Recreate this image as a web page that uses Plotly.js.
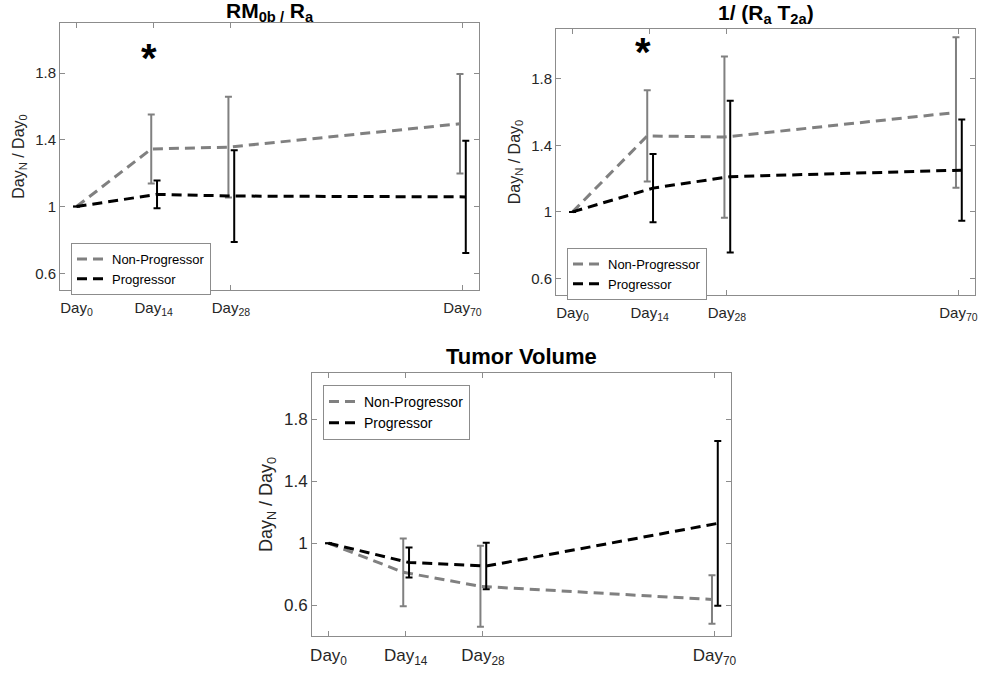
<!DOCTYPE html>
<html>
<head>
<meta charset="utf-8">
<script src="https://cdn.plot.ly/plotly-3.0.1.min.js"></script>
<style>html,body{margin:0;padding:0;background:#fff;}#chart{width:987px;height:685px;}</style>
</head>
<body>
<div id="chart"></div>
<script>
// ---- data ----
const days = [0, 14, 28, 70];
const dayLabels = ['Day<sub>0</sub>', 'Day<sub>14</sub>', 'Day<sub>28</sub>', 'Day<sub>70</sub>'];
const yTickVals = [0.6, 1, 1.4, 1.8];
const yTickText = ['0.6', '1', '1.4', '1.8'];
const seriesNames = ['Non-Progressor', 'Progressor'];

const rmNonProg = [1, 1.345, 1.356, 1.496];
const rmNonProgErr = [null, 0.207, 0.302, 0.298];
const rmProg = [1, 1.073, 1.063, 1.058];
const rmProgErr = [null, 0.083, 0.275, 0.337];

const invNonProg = [1, 1.457, 1.450, 1.598];
const invNonProgErr = [null, 0.275, 0.485, 0.453];
const invProg = [1, 1.143, 1.212, 1.251];
const invProgErr = [null, 0.205, 0.457, 0.305];

const tvNonProg = [1, 0.812, 0.721, 0.636];
const tvNonProgErr = [null, 0.219, 0.262, 0.157];
const tvProg = [1, 0.875, 0.852, 1.128];
const tvProgErr = [null, 0.097, 0.150, 0.532];

const panelTitles = ['<b>RM<sub>0b /</sub> R<sub>a</sub></b>', '<b>1/ (R<sub>a</sub> T<sub>2a</sub>)</b>', '<b>Tumor Volume</b>'];
const sigDay = 14;
const sigLevel = [1.935, 2.005];

// ---- styling / layout ----
const FONT = 'Liberation Sans, Arial, Helvetica, sans-serif';
const GREY = '#808080';
const BLACK = '#000000';
const AXC = '#8c8c8c';
const TXT = '#262626';
const npShift = d => d === 0 ? d : d - 0.45;
const pShift = d => d === 0 ? d : d + 0.6;

const panels = [
  {np: rmNonProg, npe: rmNonProgErr, p: rmProg, pe: rmProgErr, xa: 'x', ya: 'y', lg: 'legend'},
  {np: invNonProg, npe: invNonProgErr, p: invProg, pe: invProgErr, xa: 'x2', ya: 'y2', lg: 'legend2'},
  {np: tvNonProg, npe: tvNonProgErr, p: tvProg, pe: tvProgErr, xa: 'x3', ya: 'y3', lg: 'legend3'}
];

const traces = [];
panels.forEach(pn => {
  const xnp = days.map(npShift), xp = days.map(pShift);
  traces.push({x: xnp, y: pn.np, xaxis: pn.xa, yaxis: pn.ya, legend: pn.lg, name: seriesNames[0],
    mode: 'lines', line: {color: GREY, width: 3, dash: '10px,6px'}, hoverinfo: 'skip'});
  traces.push({x: xnp, y: pn.np, xaxis: pn.xa, yaxis: pn.ya, showlegend: false,
    mode: 'markers', marker: {size: 1, opacity: 0},
    error_y: {type: 'data', array: pn.npe, symmetric: true, color: GREY, thickness: 2, width: 3.5}, hoverinfo: 'skip'});
  traces.push({x: xp, y: pn.p, xaxis: pn.xa, yaxis: pn.ya, legend: pn.lg, name: seriesNames[1],
    mode: 'lines', line: {color: BLACK, width: 3, dash: '10px,6px'}, hoverinfo: 'skip'});
  traces.push({x: xp, y: pn.p, xaxis: pn.xa, yaxis: pn.ya, showlegend: false,
    mode: 'markers', marker: {size: 1, opacity: 0},
    error_y: {type: 'data', array: pn.pe, symmetric: true, color: BLACK, thickness: 2, width: 3.5}, hoverinfo: 'skip'});
});

function xax(domain, fs) {
  return {domain: domain, range: [-3, 73], tickvals: days, ticktext: dayLabels,
    showline: true, linecolor: AXC, linewidth: 1, mirror: 'ticks', ticks: 'inside', ticklen: 5,
    tickcolor: AXC, showgrid: false, zeroline: false, ticklabelstandoff: 4,
    tickfont: {family: FONT, size: fs, color: TXT}};
}
function yax(domain, range, fs, tfs) {
  return {domain: domain, range: range, tickvals: yTickVals, ticktext: yTickText,
    showline: true, linecolor: AXC, linewidth: 1, mirror: 'ticks', ticks: 'inside', ticklen: 5,
    tickcolor: AXC, showgrid: false, zeroline: false, tickfont: {family: FONT, size: fs, color: TXT},
    title: {text: 'Day<sub>N</sub> / Day<sub>0</sub>', font: {family: FONT, size: tfs, color: TXT}, standoff: 6}};
}
function leg(x, y, fs) {
  return {x: x, y: y, xanchor: 'left', yanchor: 'top', bgcolor: '#ffffff', bordercolor: AXC, borderwidth: 1,
    font: {family: FONT, size: fs, color: '#000'}, itemwidth: 30, tracegroupgap: 0};
}

const layout = {
  width: 987, height: 685, margin: {l: 0, r: 0, t: 0, b: 0},
  paper_bgcolor: '#fff', plot_bgcolor: '#fff', showlegend: true,
  xaxis: xax([60/987, 479/987], 15),
  yaxis: yax([1 - 290/685, 1 - 23/685], [0.5, 2.1], 15, 16),
  xaxis2: Object.assign(xax([556/987, 975/987], 15), {anchor: 'y2'}),
  yaxis2: Object.assign(yax([1 - 295/685, 1 - 29/685], [0.5, 2.1], 15, 16), {anchor: 'x2'}),
  xaxis3: Object.assign(xax([312/987, 731/987], 17), {anchor: 'y3'}),
  yaxis3: Object.assign(yax([1 - 636/685, 1 - 373/685], [0.4, 2.1], 17, 18), {anchor: 'x3'}),
  legend: leg(71/987, 1 - 243/685, 13),
  legend2: leg(567/987, 1 - 248/685, 13),
  legend3: leg(323/987, 1 - 385/685, 14),
  annotations: [
    {text: panelTitles[0], xref: 'paper', yref: 'paper', x: 269.5/987, y: 1 - 12/685, xanchor: 'center', yanchor: 'middle', showarrow: false, font: {family: FONT, size: 21, color: '#000'}},
    {text: panelTitles[1], xref: 'paper', yref: 'paper', x: 765.5/987, y: 1 - 14/685, xanchor: 'center', yanchor: 'middle', showarrow: false, font: {family: FONT, size: 21, color: '#000'}},
    {text: panelTitles[2], xref: 'paper', yref: 'paper', x: 521.5/987, y: 1 - 356/685, xanchor: 'center', yanchor: 'middle', showarrow: false, font: {family: FONT, size: 22, color: '#000'}},
    {text: '<b>*</b>', xref: 'x', yref: 'y', x: sigDay - 0.8, y: sigLevel[0], xanchor: 'center', yanchor: 'middle', yshift: -7, showarrow: false, font: {family: FONT, size: 40, color: '#000'}},
    {text: '<b>*</b>', xref: 'x2', yref: 'y2', x: sigDay - 1.2, y: sigLevel[1], xanchor: 'center', yanchor: 'middle', yshift: -7, showarrow: false, font: {family: FONT, size: 40, color: '#000'}}
  ]
};

Plotly.newPlot('chart', traces, layout, {staticPlot: true, displayModeBar: false});
</script>
</body>
</html>
